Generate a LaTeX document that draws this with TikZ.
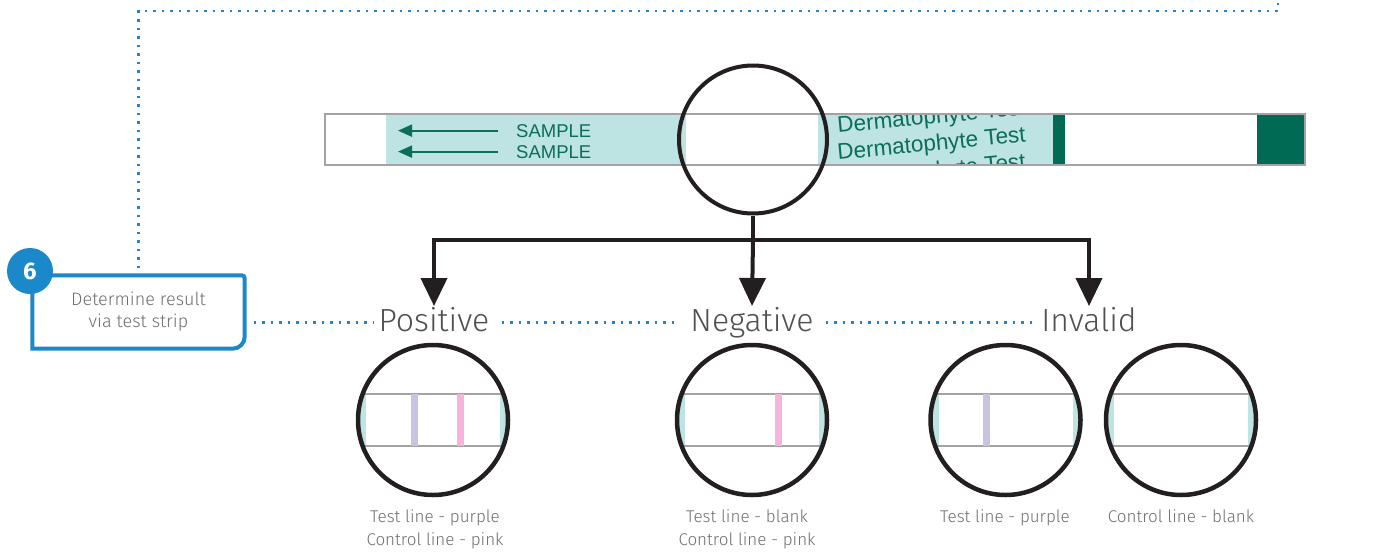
\documentclass[tikz,border=0pt]{standalone}
\usepackage{fontspec}
\setmainfont{Liberation Sans}
\newfontfamily\thinf{Fira Sans Light}
\newfontfamily\firaf{Fira Sans}
\usetikzlibrary{arrows.meta}
\definecolor{stripteal}{HTML}{BDE3E2}
\definecolor{darkgreen}{HTML}{006A55}
\definecolor{txtgreen}{HTML}{0B6E58}
\definecolor{stripgray}{HTML}{A3A3A3}
\definecolor{ink}{HTML}{231F20}
\definecolor{bluec}{HTML}{1B88C9}
\definecolor{purp}{HTML}{C6C4E0}
\definecolor{pinkc}{HTML}{F6B4DD}
\definecolor{capgray}{HTML}{6D6E71}
\definecolor{labgray}{HTML}{505050}
\newcommand\lensstrip[1]{%
  \fill[stripteal] (#1-80,394) rectangle (#1+80,446);
  \fill[white] (#1-67,394) rectangle (#1+67,446);
  \draw[stripgray, line width=1.5pt] (#1-80,394) -- (#1+80,394) (#1-80,446) -- (#1+80,446);}
\begin{document}
\begin{tikzpicture}[x=1pt,y=-1pt,
  dots/.style={bluec, line width=2.6pt, dash pattern=on 2.6pt off 5.9pt},
  conn/.style={ink, line width=4pt},
  arr/.style={conn, -{Triangle[width=26pt,length=28pt]}},
  lens/.style={circle, draw=ink, line width=4.5pt, inner sep=0pt, minimum size=150pt},
  result/.style={font=\thinf\fontsize{32}{36}\selectfont, text=labgray, inner sep=0pt, text height=25pt, text depth=7pt, anchor=north},
  caption/.style={font=\thinf\fontsize{17}{23}\selectfont, text=capgray, align=center, inner sep=0pt, anchor=north},
  sample/.style={font=\fontsize{18.5}{18.5}\selectfont, text=txtgreen, inner sep=0pt, anchor=base west},
  derm/.style={font=\fontsize{22.5}{22.5}\selectfont, text=txtgreen, inner sep=0pt, anchor=base west, rotate=5.5},
  samplearrow/.style={txtgreen, line width=2pt, -{Triangle[width=12pt,length=14pt]}},
]
\useasboundingbox (0,0) rectangle (1386,552);

% main test strip
\fill[white] (325,114) rectangle (1305,165);
\fill[stripteal] (386,114) rectangle (1053,165);
\fill[white] (686,114) rectangle (818,165);
\fill[darkgreen] (1053,114) rectangle (1065,165);
\fill[darkgreen] (1257,114) rectangle (1305,165);
\node[sample] (s1) at (516,137) {SAMPLE};
\node[sample] (s2) at (516,158) {SAMPLE};
\draw[samplearrow] ([xshift=-18pt]s1.west) -- ++(-100,0);
\draw[samplearrow] ([xshift=-18pt]s2.west) -- ++(-100,0);
\begin{scope}
  \clip (818,114) rectangle (1053,165);
  \node[derm] (d1) at (838,133) {Dermatophyte Test};
  \node[derm] (d2) at (838,160) {Dermatophyte Test};
  \node[derm] (d3) at (838,187) {Dermatophyte Test};
\end{scope}
\draw[stripgray, line width=1.5pt] (325,114) rectangle (1305,165);

% magnifier on strip
\node[lens, minimum size=148pt, line width=4pt] (big) at (753,139.5) {};

% result labels
\node[result] (pos) at (434,306) {Positive};
\node[result] (neg) at (752,306) {Negative};
\node[result] (inv) at (1089,306) {Invalid};

% branching arrows
\coordinate (fork) at (753,240);
\draw[conn] (big.south) -- (fork);
\draw[arr] (fork) -| (pos.north);
\draw[arr] (fork) -- (neg.north);
\draw[arr] (fork) -| (inv.north);

% step box
\node[minimum width=212pt, minimum height=73pt, inner sep=0pt, align=center,
      font=\thinf\fontsize{18}{22}\selectfont, text=capgray] (box) at (138.5,312)
      {Determine result\\via test strip};
\draw[bluec, line width=4pt] (box.south west) -- (box.north west) [rounded corners=3pt] -- (box.north east) [rounded corners=12pt] -- (box.south east) [sharp corners] -- (box.south west) -- cycle;
\node[circle, fill=bluec, minimum size=46pt, inner sep=0pt, text=white,
      font=\firaf\bfseries\fontsize{24}{24}\selectfont] (badge) at (30,271) {6};

% dotted guides
\coordinate (c1) at (138.5,11);
\coordinate (c2) at (1278,11);
\coordinate (c3) at (1278,0);
\draw[dots, shorten <=7pt] (box.north) -- (box.north |- c1) -- (c2) -- (c3);
\draw[dots, shorten <=9pt, shorten >=4pt] (box.east |- pos.west) -- (pos.west);
\draw[dots, shorten <=12pt, shorten >=12pt] (pos.east) -- (neg.west);
\draw[dots, shorten <=12pt, shorten >=6pt] (neg.east) -- (inv.west);

% result lenses: strip seen through each lens
\begin{scope}
  \clip (433,420) circle (75);
  \lensstrip{433}
  \fill[purp] (411,394) rectangle (418,446);
  \fill[pinkc] (457,394) rectangle (464,446);
\end{scope}
\begin{scope}
  \clip (752,420) circle (75);
  \lensstrip{752}
  \fill[pinkc] (775,394) rectangle (782,446);
\end{scope}
\begin{scope}
  \clip (1005.5,420) circle (75);
  \lensstrip{1005.5}
  \fill[purp] (983,394) rectangle (990,446);
\end{scope}
\begin{scope}
  \clip (1181,420) circle (75);
  \lensstrip{1181}
\end{scope}
\node[lens] (l1) at (433,420) {};
\node[lens] (l2) at (752,420) {};
\node[lens] (l3) at (1005.5,420) {};
\node[lens] (l4) at (1181,420) {};

% captions
\node[caption] (cap1) at (435,509) {Test line - purple\\Control line - pink};
\node[caption] (cap2) at (747,509) {Test line - blank\\Control line - pink};
\node[caption] (cap3) at (1005,509) {Test line - purple};
\node[caption] (cap4) at (1181,509) {Control line - blank};
\end{tikzpicture}
\end{document}
